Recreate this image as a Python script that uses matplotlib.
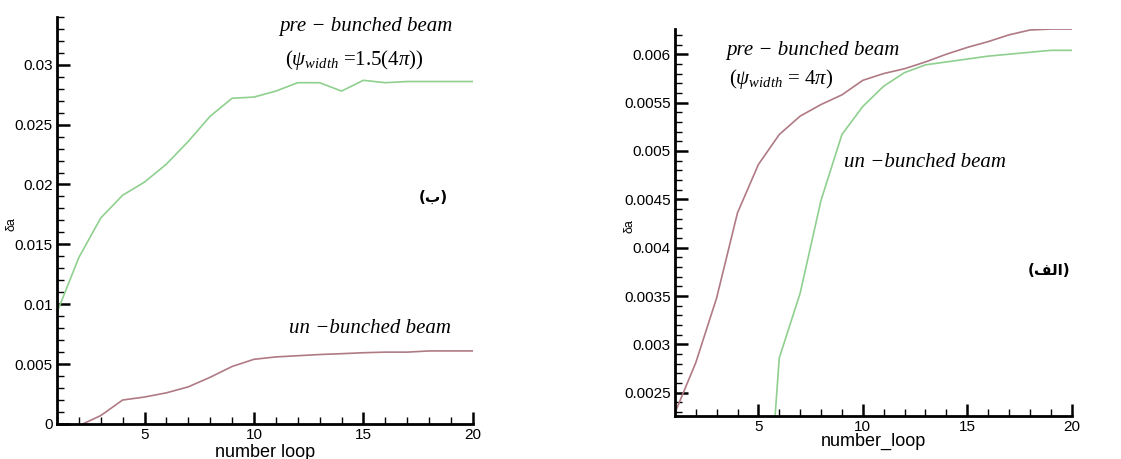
import numpy as np
import matplotlib.pyplot as plt
from matplotlib.ticker import MultipleLocator

# left panel (ب): pre-bunched psi_width = 1.5(4pi) vs un-bunched
loops = np.arange(1, 21)
pre_wide = [0.0093, 0.0139, 0.0172, 0.0191, 0.0202, 0.0217, 0.0236, 0.0257, 0.0272, 0.0273,
            0.0278, 0.0285, 0.0285, 0.0278, 0.0287, 0.0285, 0.0286, 0.0286, 0.0286, 0.0286]
loops_un_left = np.arange(2, 21)
un_left = [-0.00015, 0.0007, 0.0020, 0.00225, 0.0026, 0.0031, 0.0039, 0.0048, 0.0054, 0.0056,
           0.0057, 0.0058, 0.00587, 0.00595, 0.006, 0.006, 0.0061, 0.0061, 0.0061]

# right panel (الف): pre-bunched psi_width = 4pi vs un-bunched
pre_narrow = [0.00229, 0.00281, 0.00348, 0.00436, 0.00486, 0.00517, 0.00536, 0.00548, 0.00558, 0.00573,
              0.00580, 0.00585, 0.00592, 0.00600, 0.00607, 0.00613, 0.00620, 0.00625, 0.00626, 0.00626]
loops_un_right = np.arange(5, 21)
un_right = [-0.00014, 0.00286, 0.00353, 0.00449, 0.00517, 0.00546, 0.00567, 0.00581, 0.00589, 0.00592,
            0.00595, 0.00598, 0.00600, 0.00602, 0.00604, 0.00604]

GREEN = '#8fd08f'
RED = '#b07a85'

plt.rcParams['font.family'] = ['Liberation Sans', 'DejaVu Sans']
plt.rcParams['mathtext.fontset'] = 'custom'
plt.rcParams['mathtext.rm'] = 'Liberation Serif'
plt.rcParams['mathtext.it'] = 'Liberation Serif:italic'

fig = plt.figure(figsize=(11.21, 4.59), dpi=100)
ax1 = fig.add_axes([0.0508, 0.0763, 0.371, 0.887])
ax2 = fig.add_axes([0.602, 0.0937, 0.354, 0.843])


def trim(v, p=None):
    return ('%.4f' % v).rstrip('0').rstrip('.')


def style(ax, ymajor, yminor):
    for s in ['top', 'right']:
        ax.spines[s].set_visible(False)
    for s in ['left', 'bottom']:
        ax.spines[s].set_linewidth(2)
    ax.set_xlim(1, 20)
    ax.xaxis.set_major_locator(MultipleLocator(5))
    ax.xaxis.set_minor_locator(MultipleLocator(1))
    ax.yaxis.set_major_locator(MultipleLocator(ymajor))
    ax.yaxis.set_minor_locator(MultipleLocator(yminor))
    ax.yaxis.set_major_formatter(plt.FuncFormatter(trim))
    ax.tick_params(which='major', direction='in', length=9, width=1.8, labelsize=11, pad=3)
    ax.tick_params(which='minor', direction='in', length=5, width=1)


serif = dict(family='Liberation Serif', fontsize=15, ha='center', va='center')

ax1.plot(loops, pre_wide, color=GREEN, lw=1.2)
ax1.plot(loops_un_left, un_left, color=RED, lw=1.2)
ax1.set_ylim(0, 0.034)
style(ax1, 0.005, 0.001)
ax1.set_xlabel('number loop', fontsize=13, labelpad=1)
ax1.set_ylabel('δa', fontsize=9)
ax1.yaxis.set_label_coords(-0.095, 0.49)

ax1.text(15.1, 0.0332, 'pre − bunched beam', style='italic', **serif)
ax1.text(14.6, 0.0304, r'($\psi_{width}$ =1.5(4$\pi$))', **serif)
ax1.text(15.3, 0.0080, 'un −bunched beam', style='italic', **serif)
ax1.text(18.2, 0.0189, '(\uFE8F)', family='DejaVu Sans', fontweight='bold',
         fontsize=11, ha='center', va='center')

ax2.plot(loops, pre_narrow, color=RED, lw=1.2)
ax2.plot(loops_un_right, un_right, color=GREEN, lw=1.2)
ax2.set_ylim(0.00226, 0.00626)
style(ax2, 0.0005, 0.0001)
ax2.set_xlabel('number_loop', fontsize=13, labelpad=-1)
ax2.set_ylabel('δa', fontsize=9)
ax2.yaxis.set_label_coords(-0.1, 0.49)

ax2.text(7.6, 0.00604, 'pre − bunched beam', style='italic', **serif)
ax2.text(6.1, 0.00574, r'($\psi_{width}$ = 4$\pi$)', **serif)
ax2.text(13.0, 0.00488, 'un −bunched beam', style='italic', **serif)
ax2.text(18.9, 0.00376, '(\uFED2\uFEDF\uFE8D)', family='DejaVu Sans', fontweight='bold',
         fontsize=11, ha='center', va='center')

fig.savefig('out.png', dpi=100)
